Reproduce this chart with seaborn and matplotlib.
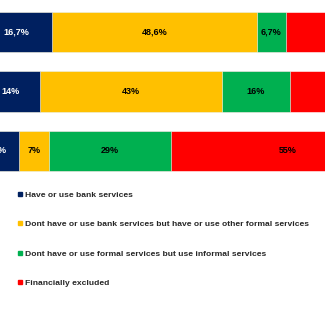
import matplotlib
matplotlib.use("Agg")
import matplotlib.pyplot as plt
import seaborn as sns
import pandas as pd
import numpy as np
from matplotlib.lines import Line2D

sns.set_theme(style="white")
plt.rcParams['font.family'] = ['Liberation Sans', 'DejaVu Sans']

groups = ["Group A", "Group B", "Group C"]
series = ["Have or use bank services",
          "Dont have or use bank services but have or use other formal services",
          "Dont have or use formal services but use informal services",
          "Financially excluded"]
bank = [16.7, 14, 9]
other_formal = [48.6, 43, 7]
informal = [6.7, 16, 29]
excluded = [28.0, 27, 55]
# red segment labels of the first two bars lie outside the visible crop
labels = [["16,7%", "48,6%", "6,7%", ""],
          ["14%", "43%", "16%", ""],
          ["9%", "7%", "29%", "55%"]]
colors = ["#002060", "#FFC000", "#00B050", "#FF0000"]
text_colors = ["white", "black", "black", "black"]

vals = np.array([bank, other_formal, informal, excluded])
cum = np.cumsum(vals, axis=0)

fig = plt.figure(figsize=(3.25, 3.25), dpi=100)
ax = fig.add_axes([-19/325, (325-183)/325, 423/325, 183/325])

for i in reversed(range(4)):
    df = pd.DataFrame({"group": groups, "value": cum[i]})
    sns.barplot(data=df, x="value", y="group", color=colors[i], width=0.68,
                saturation=1, ax=ax, orient="h", edgecolor="white", linewidth=0.4)

for j in range(3):
    for i in range(4):
        if not labels[j][i]:
            continue
        center = cum[i][j] - vals[i][j] / 2
        ax.text(center, j, labels[j][i], ha="center", va="center",
                fontsize=6.5, fontweight="bold", color=text_colors[i])

ax.set_xlim(0, 100)
ax.set_ylim(2.538, -0.538)
ax.axis("off")

handles = [Line2D([0], [0], marker="s", linestyle="none", markersize=3.5,
                  markerfacecolor=c, markeredgecolor=c) for c in colors]
fig.legend(handles, series, loc="upper left", bbox_to_anchor=(0.038, 1 - 187.5/325),
           frameon=False, prop={"weight": "bold", "size": 6.1},
           handletextpad=0.15, labelspacing=2.55, borderaxespad=0, handlelength=1.0)

fig.savefig("out.png", dpi=100)
